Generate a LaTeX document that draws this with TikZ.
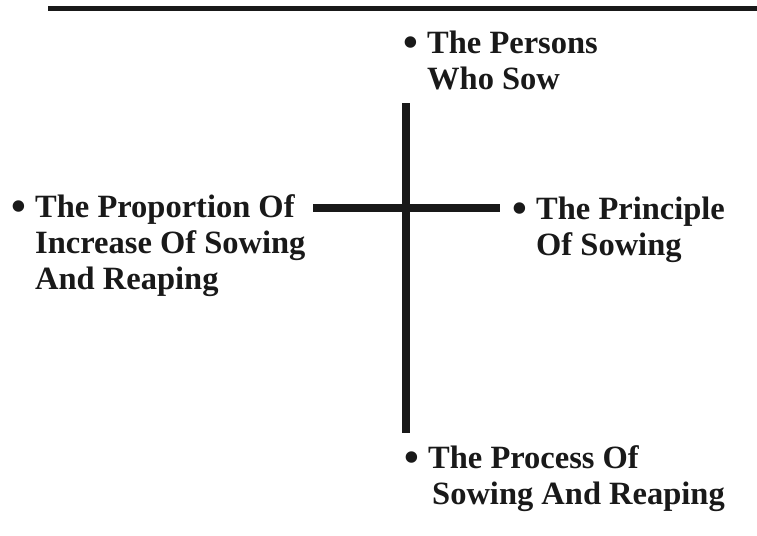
\documentclass[tikz,border=0pt]{standalone}
\usepackage{fontspec}
\setmainfont{Liberation Serif}
\usepackage{graphicx}
\usepackage{tikz}

\newcommand{\blt}{\makebox[24pt][l]{\raisebox{-3pt}{\scalebox{1.3}{\textbullet}}}}

\begin{document}
\begin{tikzpicture}[x=1pt, y=-1pt,
    bar/.style={line width=8pt, draw=black!90},
    rule/.style={line width=5pt, draw=black!90},
    item/.style={anchor=base west, inner sep=0pt, text=black!90,
      font=\bfseries\fontsize{32.5}{36}\selectfont}]
  \useasboundingbox (0,0) rectangle (757,535);

  % rule along the top
  \coordinate (ruleL) at (48,9);
  \coordinate (ruleR) at (757,9);
  \draw[rule] (ruleL) -- (ruleR);

  % the cross
  \coordinate (crossT) at (406,103);
  \coordinate (crossB) at (406,433);
  \coordinate (crossL) at (313,207.5);
  \coordinate (crossR) at (500,207.5);
  \draw[bar, line width=7.5pt] (crossT) -- (crossB);
  \draw[bar] (crossL) -- (crossR);

  % the four items
  \node[item] (persons) at (403,53)
    {\begin{tabular}[t]{@{}l@{}l@{}}\blt & The Persons\\ & Who Sow\end{tabular}};
  \node[item] (proportion) at (11,217)
    {\begin{tabular}[t]{@{}l@{}l@{}}\blt & The Proportion Of\\ & Increase Of Sowing\\ & And Reaping\end{tabular}};
  \node[item] (principle) at (512,219)
    {\begin{tabular}[t]{@{}l@{}l@{}}\blt & The Principle\\ & Of Sowing\end{tabular}};
  \node[item] (process) at (404,468)
    {\begin{tabular}[t]{@{}l@{}l@{}}\blt & The Process Of\\ & \hspace{4pt}Sowing And Reaping\end{tabular}};
\end{tikzpicture}
\end{document}
